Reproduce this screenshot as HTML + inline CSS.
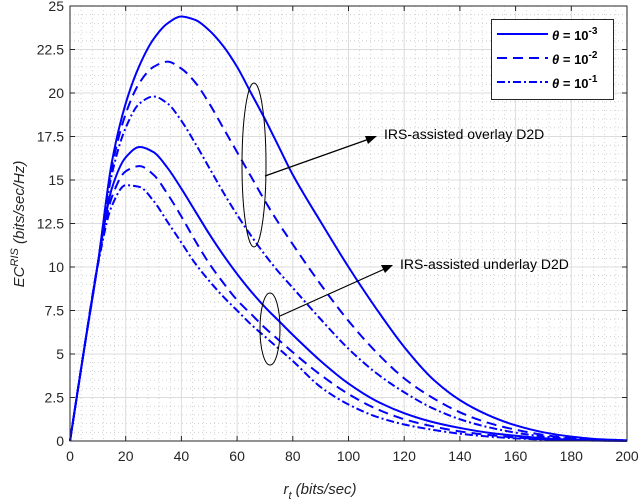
<!DOCTYPE html>
<html><head><meta charset="utf-8"><style>
html,body{margin:0;padding:0;background:#fff;}
svg{display:block;font-family:"Liberation Sans",sans-serif;}
</style></head><body>
<svg id="chart" width="640" height="503" viewBox="0 0 640 503">
<g id="grid"></g>
<g id="series"></g>
<g id="axes"></g>
<g>
<ellipse cx="254" cy="165" rx="12" ry="82" fill="none" stroke="#000" stroke-width="1"/>
<line x1="265" y1="176" x2="372" y2="138" stroke="#000" stroke-width="1.2"/>
<polygon points="377,136 365,136 368,144" fill="#000"/>
<text x="384" y="139" font-size="14" fill="#000">IRS-assisted overlay D2D</text>
</g>
<g>
<ellipse cx="270" cy="329" rx="10" ry="36" fill="none" stroke="#000" stroke-width="1"/>
<line x1="280" y1="316" x2="389" y2="267" stroke="#000" stroke-width="1.2"/>
<polygon points="393,265 381,265 385,273" fill="#000"/>
<text x="400" y="269" font-size="14" fill="#000">IRS-assisted underlay D2D</text>
</g>
<g>
<rect x="491.5" y="19.5" width="122" height="80" fill="#fff" stroke="#262626" stroke-width="1"/>
<g>
<line x1="497" y1="34" x2="548" y2="34" stroke="#0000ff" stroke-width="2"/>
<text x="552" y="40" font-size="13" font-weight="bold" fill="#000"><tspan font-style="italic">θ</tspan> = 10<tspan dy="-6" font-size="10">-3</tspan></text>
</g>
<g>
<line x1="497" y1="58" x2="548" y2="58" stroke="#0000ff" stroke-width="2" stroke-dasharray="10,6"/>
<text x="552" y="64" font-size="13" font-weight="bold" fill="#000"><tspan font-style="italic">θ</tspan> = 10<tspan dy="-6" font-size="10">-2</tspan></text>
</g>
<g>
<line x1="497" y1="82" x2="548" y2="82" stroke="#0000ff" stroke-width="2" stroke-dasharray="8,3,2,3"/>
<text x="552" y="88" font-size="13" font-weight="bold" fill="#000"><tspan font-style="italic">θ</tspan> = 10<tspan dy="-6" font-size="10">-1</tspan></text>
</g>
</g>
<text x="320" y="494" font-size="15" font-style="italic" text-anchor="middle" fill="#262626">r<tspan dy="5" font-size="11">t</tspan><tspan dy="-5"> (bits/sec)</tspan></text>
<text transform="translate(24,224) rotate(-90)" font-size="15" font-style="italic" text-anchor="middle" fill="#262626">EC<tspan dy="-6" font-size="11">RIS</tspan><tspan dy="6"> (bits/sec/Hz)</tspan></text>
</svg>
<script>
const xTicks=[0,20,40,60,80,100,120,140,160,180,200];
const yTicks=[0,2.5,5,7.5,10,12.5,15,17.5,20,22.5,25];
const yTickLabels=["0","2.5","5","7.5","10","12.5","15","17.5","20","22.5","25"];
const rt=[0,5,10,15,20,25,30,35,40,45,50,55,60,65,70,75,80,90,100,110,120,130,140,150,160,170,180,190,200];
const overlay3=[0,5.2,10.2,16.0,19.4,21.6,23.1,24.0,24.4,24.2,23.6,22.7,21.5,20.0,18.5,16.9,15.3,12.6,10.0,7.6,5.4,3.6,2.35,1.5,0.9,0.5,0.25,0.1,0.04];
const overlay2=[0,5.2,10.2,15.7,18.8,20.6,21.5,21.8,21.4,20.6,19.4,18.0,16.6,15.2,13.8,12.5,11.3,9.0,6.9,5.1,3.6,2.5,1.65,1.05,0.65,0.35,0.17,0.07,0.03];
const overlay1=[0,5.2,10.2,15.3,18.0,19.4,19.8,19.4,18.4,17.1,15.7,14.3,13.0,11.8,10.7,9.7,8.8,7.0,5.3,3.9,2.8,1.9,1.25,0.8,0.48,0.26,0.13,0.05,0.02];
const underlay3=[0,5.2,10.2,14.5,16.3,16.9,16.6,15.7,14.5,13.2,11.9,10.7,9.6,8.6,7.7,6.9,6.1,4.6,3.3,2.3,1.6,1.1,0.75,0.48,0.3,0.16,0.08,0.03,0.01];
const underlay2=[0,5.2,10.2,14.0,15.5,15.8,15.3,14.2,12.9,11.5,10.2,9.1,8.1,7.3,6.5,5.8,5.1,3.8,2.7,1.85,1.25,0.85,0.55,0.35,0.2,0.1,0.05,0.02,0.01];
const underlay1=[0,5.2,10.1,13.5,14.7,14.6,13.8,12.6,11.4,10.2,9.2,8.3,7.5,6.7,6.0,5.3,4.6,3.1,2.1,1.4,0.95,0.65,0.42,0.26,0.15,0.08,0.04,0.02,0.01];

const NS="http://www.w3.org/2000/svg";
const X0=70,X1=627,Y0=441,Y1=6;
function sx(v){return X0+(v-0)/(200-0)*(X1-X0);}
function sy(v){return Y0-(v-0)/(25-0)*(Y0-Y1);}
function mk(tag,parent){const e=document.createElementNS(NS,tag);parent.appendChild(e);return e;}
const grid=document.getElementById('grid'),axes=document.getElementById('axes'),series=document.getElementById('series');
for(let i=0;i<xTicks.length-1;i++){for(let k=1;k<5;k++){const v=xTicks[i]+(xTicks[i+1]-xTicks[i])*k/5;const l=mk('line',grid);


l.setAttribute('x1',sx(v));l.setAttribute('x2',sx(v));l.setAttribute('y1',Y1);l.setAttribute('y2',Y0);l.setAttribute('stroke','#c8c8c8');l.setAttribute('stroke-width','0.8');l.setAttribute('stroke-dasharray','1,3');}}
for(let i=0;i<yTicks.length-1;i++){for(let k=1;k<5;k++){const v=yTicks[i]+(yTicks[i+1]-yTicks[i])*k/5;const l=mk('line',grid);


l.setAttribute('x1',X0);l.setAttribute('x2',X1);l.setAttribute('y1',sy(v));l.setAttribute('y2',sy(v));l.setAttribute('stroke','#c8c8c8');l.setAttribute('stroke-width','0.8');l.setAttribute('stroke-dasharray','1,3');}}
xTicks.forEach(v=>{const l=mk('line',grid);


l.setAttribute('x1',sx(v));l.setAttribute('x2',sx(v));l.setAttribute('y1',Y1);l.setAttribute('y2',Y0);l.setAttribute('stroke','#dcdcdc');l.setAttribute('stroke-width','1');
const t=mk('line',axes);


t.setAttribute('x1',sx(v));t.setAttribute('x2',sx(v));t.setAttribute('y1',Y0);t.setAttribute('y2',Y0-5);t.setAttribute('stroke','#262626');
const t2=mk('line',axes);


t2.setAttribute('x1',sx(v));t2.setAttribute('x2',sx(v));t2.setAttribute('y1',Y1);t2.setAttribute('y2',Y1+5);t2.setAttribute('stroke','#262626');
const tx=mk('text',axes);


tx.setAttribute('x',sx(v));tx.setAttribute('y',Y0+20);tx.setAttribute('text-anchor','middle');tx.setAttribute('font-size','14');tx.setAttribute('fill','#262626');tx.textContent=String(v);});
yTicks.forEach((v,i)=>{const l=mk('line',grid);


l.setAttribute('x1',X0);l.setAttribute('x2',X1);l.setAttribute('y1',sy(v));l.setAttribute('y2',sy(v));l.setAttribute('stroke','#dcdcdc');l.setAttribute('stroke-width','1');
const t=mk('line',axes);


t.setAttribute('x1',X0);t.setAttribute('x2',X0+5);t.setAttribute('y1',sy(v));t.setAttribute('y2',sy(v));t.setAttribute('stroke','#262626');
const t2=mk('line',axes);


t2.setAttribute('x1',X1);t2.setAttribute('x2',X1-5);t2.setAttribute('y1',sy(v));t2.setAttribute('y2',sy(v));t2.setAttribute('stroke','#262626');
const tx=mk('text',axes);


tx.setAttribute('x',X0-6);tx.setAttribute('y',sy(v)+5);tx.setAttribute('text-anchor','end');tx.setAttribute('font-size','14');tx.setAttribute('fill','#262626');tx.textContent=yTickLabels[i];});
const box=mk('rect',axes);


box.setAttribute('x',X0);box.setAttribute('y',Y1);box.setAttribute('width',X1-X0);box.setAttribute('height',Y0-Y1);box.setAttribute('fill','none');box.setAttribute('stroke','#262626');box.setAttribute('stroke-width','1');
function pathD(xs,ys){const n=xs.length,d=[],m=new Array(n);
for(let i=0;i<n-1;i++)d.push((ys[i+1]-ys[i])/(xs[i+1]-xs[i]));
m[0]=d[0];m[n-1]=d[n-2];
for(let i=1;i<n-1;i++){if(d[i-1]*d[i]<=0)m[i]=0;else{const h0=xs[i]-xs[i-1],h1=xs[i+1]-xs[i];const w1=2*h1+h0,w2=h1+2*h0;m[i]=(w1+w2)/(w1/d[i-1]+w2/d[i]);}}
let s='M'+sx(xs[0])+','+sy(ys[0]);
for(let i=0;i<n-1;i++){const h=xs[i+1]-xs[i];
s+=' C'+sx(xs[i]+h/3)+','+sy(ys[i]+m[i]*h/3)+' '+sx(xs[i+1]-h/3)+','+sy(ys[i+1]-m[i+1]*h/3)+' '+sx(xs[i+1])+','+sy(ys[i+1]);}
return s;}
const defs=[[overlay3,'','overlay-theta-1e-3'],[overlay2,'10,6','overlay-theta-1e-2'],[overlay1,'8,3,2,3','overlay-theta-1e-1'],[underlay3,'','underlay-theta-1e-3'],[underlay2,'10,6','underlay-theta-1e-2'],[underlay1,'8,3,2,3','underlay-theta-1e-1']];
defs.forEach(s=>{const p=mk('path',series);


p.setAttribute('d',pathD(rt,s[0]));p.setAttribute('fill','none');p.setAttribute('stroke','#0000ff');p.setAttribute('stroke-width','2');if(s[1])p.setAttribute('stroke-dasharray',s[1]);});
</script>
</body></html>
